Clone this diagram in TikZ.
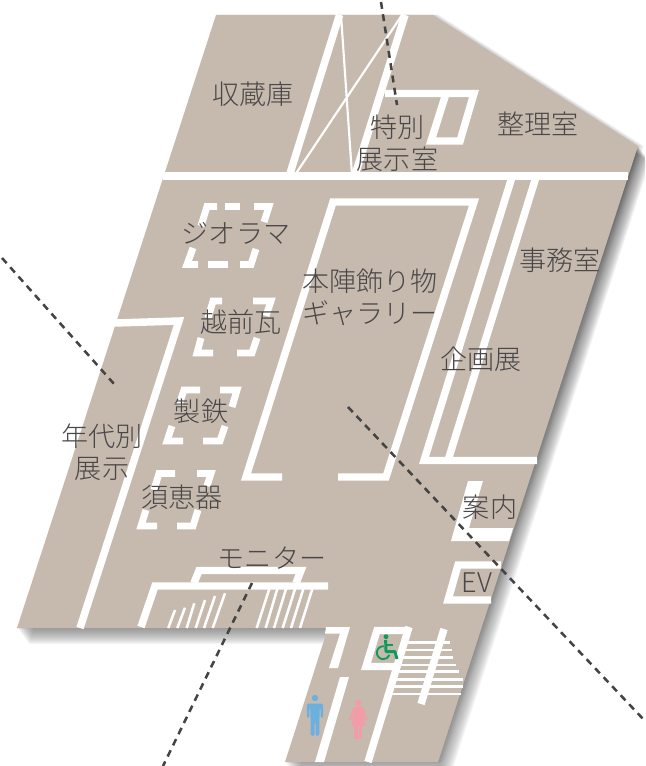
\documentclass[tikz,border=0pt]{standalone}
\usepackage{fontspec}
\setmainfont{Noto Sans CJK JP}[UprightFont=* Light]
\definecolor{floor}{HTML}{C6BAAE}
\definecolor{ink}{HTML}{4A4748}
\definecolor{dashc}{HTML}{444444}
\definecolor{man}{HTML}{6CB0E0}
\definecolor{woman}{HTML}{F29CA8}
\definecolor{wheel}{HTML}{0F9A5A}
\definecolor{shade}{HTML}{4E4954}
\tikzset{
  wall/.style={draw=white,line width=5.6pt,line join=miter,miter limit=10},
  thinwall/.style={draw=white,line width=1.6pt},
  hatch/.style={draw=white,line width=1.9pt},
  bracket/.style={draw=white,line width=5.2pt,line join=miter,miter limit=10},
  stripe/.style={draw=white,line width=1.9pt},
  cut/.style={draw=dashc,line width=1.9pt,dash pattern=on 5.2pt off 4.1pt},
  roomlabel/.style={text=ink,align=center,inner sep=0pt,font=\fontsize{20.3}{24}\selectfont},
}
\begin{document}
\begin{tikzpicture}[x=0.75pt,y=-0.75pt]
\useasboundingbox (0,0) rectangle (645,766);
\clip (0,0) rectangle (645,766);
% shadow
\foreach \k in {1,...,16}{
  \fill[shift={({0.75*\k},\k)},shade,fill opacity=0.034]
    (216,15)--(433,15)--(638,146)--(438,762)--(285,762)--(328,628)--(17,628)--cycle;
}
\foreach \k in {1,...,6}{
  \fill[shift={(\k,0)},shade,fill opacity=0.022]
    (216,15)--(433,15)--(638,146)--(438,762)--(285,762)--(328,628)--(17,628)--cycle;
}
% floor
\fill[floor] (216,15)--(433,15)--(638,146)--(438,762)--(285,762)--(328,628)--(17,628)--cycle;
% top part
\draw[wall] (163,176)--(628,176);
\draw[wall] (339.5,15)--(289.5,175);
\draw[thinwall] (341,15)--(352,175);
\draw[thinwall] (402,15)--(295,175);
\draw[wall] (405,15)--(355,175);
\draw[wall] (385,93.5)--(474,93.5)--(460,141)--(431,141)--(446,93.5);
% central gallery
\draw[wall] (282,477)--(246,477)--(333,202)--(474,202)--(386,477)--(338,477);
% special exhibition
\draw[wall] (512,177)--(424,460.5)--(537,460.5);
\draw[wall] (536,177)--(448,460.5);
% guide
\fill[white] (468,481)--(483,481)--(469,528)--(513,528)--(509,541)--(451,541)--cycle;
% EV
\draw[wall] (501,565)--(458,565)--(448,600)--(491,600);
% chronological
\draw[wall] (115,323)--(179,321)--(80,628);
% brackets
\draw[bracket] (217,206.5)--(207,206.5)--(201,226);
\draw[bracket] (225,206.5)--(240,206.5);
\draw[bracket] (254,206.5)--(269,206.5)--(264,222);
\draw[bracket] (198,264.5)--(187,264.5)--(193,248);
\draw[bracket] (208,264.5)--(228,264.5);
\draw[bracket] (240,264.5)--(251,264.5)--(256,249);
\draw[bracket] (222,301)--(213,301)--(208,318);
\draw[bracket] (253,301)--(271,301)--(266,316);
\draw[bracket] (213,353)--(197,353)--(201,338);
\draw[bracket] (237,353)--(252,353)--(257,338);
\draw[bracket] (200,390)--(184,390)--(179,405);
\draw[bracket] (220,390)--(237,390)--(232,407);
\draw[bracket] (183,441)--(167,441)--(172,426);
\draw[bracket] (203,441)--(220,441)--(225,426);
\draw[bracket] (175,473.5)--(159,473.5)--(154,490);
\draw[bracket] (197,473.5)--(211,473.5)--(207,486);
\draw[bracket] (157,526)--(141,526)--(146,510);
\draw[bracket] (177,526)--(193,526)--(198,510);
% monitor area
\draw[wall] (194,583)--(199,570.5)--(301,570.5)--(296,583);
\draw[wall] (328,586)--(155,586)--(141,627);
\foreach \a/\b/\c in {175/168.3/610,185/177.3/607.7,194.3/186.7/603.3,205/195.7/600,215/204/596,225/212.7/593.3}{
  \draw[hatch] (\a,\c)--(\b,628);
}
\foreach \a/\b in {269.3/256.7,277.3/265.7,286/274,295/282.7,303.3/291,312.3/300}{
  \draw[hatch] (\a,589)--(\b,628);
}
% lower wing
\fill[white] (326,627)--(350,627)--(338,668)--(329,668)--(340,633.5)--(325,633.5)--cycle;
\fill[white] (340,677)--(349,677)--(324,762)--(315,762)--cycle;
\draw[wall] (409,627)--(368,762);
\draw[wall] (409,630.5)--(377,630.5)--(366,666.5)--(397,666.5);
\foreach \y/\x in {642.3/450,650/452,657.3/453,665/456,671.7/459,679.3/463,686.7/463,694/461}{
  \draw[stripe] ({409-0.305*(\y-627)},\y)--(\x,\y);
}
\draw[wall] (444,629)--(421,704);
% wheelchair
\fill[wheel] (386,636.7) circle (2.4);
\draw[wheel,line width=2.2pt,line join=round] (385.6,640)--(386,651.7)--(395,651.7)--(397,659);
\draw[wheel,line width=1.6pt] (386,645.3)--(393,645.3);
\draw[wheel,line width=1.4pt] (383.9,646.2) arc[start angle=-85,end angle=-340,radius=6.5];
% man
\fill[man] (315,698) circle (3.2);
\fill[man,rounded corners=1.2pt] (306.8,718)--(306.8,703.5)--(323.2,703.5)--(323.2,718)--(320.6,718)--(320.6,708)--(319.6,708)--(319.3,736)--(315.6,736)--(315.6,722)--(314.6,722)--(314.6,736)--(310.7,736)--(310.4,708)--(309.4,708)--(309.4,718)--cycle;
% woman
\fill[woman] (358.3,702.7) circle (3.1);
\draw[woman,line width=1.5pt,line join=round] (349.8,720.3)--(354.3,707.6)--(362.4,707.6)--(366.8,720.3);
\fill[woman] (354,707)--(362.6,707)--(365,726)--(351.7,726)--cycle;
\fill[woman] (354.2,725)--(357.6,725)--(357.6,739)--(354.2,739)--cycle;
\fill[woman] (358.6,725)--(361.9,725)--(361.9,739)--(358.6,739)--cycle;
% labels
\node[roomlabel] (storage) at (253,94) {収蔵庫};
\node[roomlabel] (special) at (397.5,143.5) {特別\\展示室};
\node[roomlabel] (sorting) at (538,124) {整理室};
\node[roomlabel] (diorama) at (236,233) {ジオラマ};
\node[roomlabel] (honjin) at (370,297.5) {本陣飾り物\\ギャラリー};
\node[roomlabel] (office) at (560,260) {事務室};
\node[roomlabel] (kawara) at (241,322) {越前瓦};
\node[roomlabel] (kikaku) at (481,359) {企画展};
\node[roomlabel] (seitetsu) at (201,411) {製鉄};
\node[roomlabel] (nendai) at (102,452) {年代別\\展示};
\node[roomlabel] (sue) at (182,497) {須恵器};
\node[roomlabel] (guide) at (490,507) {案内};
\node[roomlabel] (monitor) at (272,558) {モニター};
\node[roomlabel] (ev) at (477,583) {EV};
% cut lines
\draw[cut] (381,2)--(397,105);
\draw[cut] (2,258)--(115,385);
\draw[cut] (348,407)--(645,721);
\draw[cut] (252,583)--(163,766);
\end{tikzpicture}
\end{document}
